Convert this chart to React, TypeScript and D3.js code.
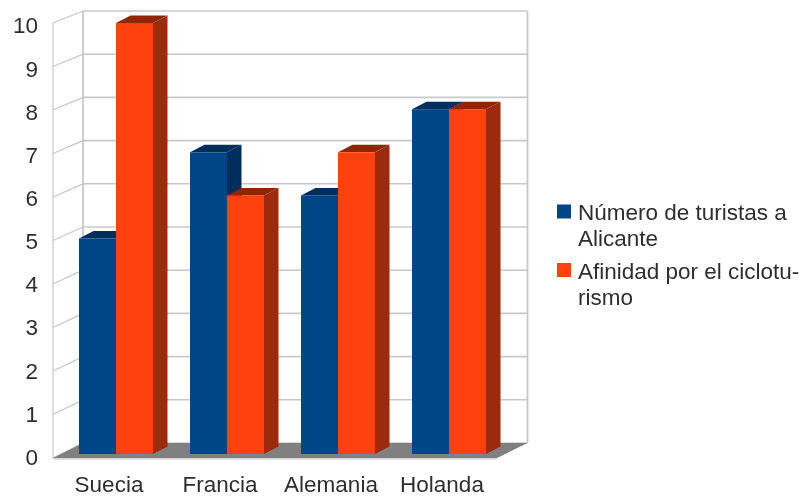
import React from "react";
import * as d3 from "d3";

const categories = ["Suecia", "Francia", "Alemania", "Holanda"];
const seriesNames = ["Número de turistas a Alicante", "Afinidad por el ciclotu-rismo"];
const turistas = [5, 7, 6, 8];
const afinidad = [10, 6, 7, 8];
const ticks = [0, 1, 2, 3, 4, 5, 6, 7, 8, 9, 10];
const legendLines = [["Número de turistas a", "Alicante"], ["Afinidad por el ciclotu-", "rismo"]];
const palette = [
  { front: "#004586", side: "#002f5c", top: "#002f5c" },
  { front: "#ff420e", side: "#9c2b08", top: "#8f2805" },
];

const W = 804, H = 497;
const font = "'Liberation Sans', Arial, sans-serif";
const textColor = "#2e2e2e";
const grid = "#c8c8c8";

export default function App() {
  const x = d3.scaleBand<string>().domain(categories).range([53, 497]);
  const yFront = d3.scaleLinear().domain([0, 10]).range([458, 23]);
  const yBack = d3.scaleLinear().domain([0, 10]).range([443, 11]);
  const yBar = d3.scaleLinear().domain([0, 10]).range([454, 23]);
  const yLabel = d3.scaleLinear().domain([0, 10]).range([459, 27.5]);
  const dx = 14.5, dy = 7.5, barW = 37, inset = 26;
  const series = [turistas, afinidad];
  const backL = 83, backR = 527.5, frontL = 53, frontR = 497;

  return (
    <svg width={W} height={H} viewBox={`0 0 ${W} ${H}`} style={{ position: "absolute", left: 0, top: 0, background: "#fff" }}>
      <defs>
        <filter id="soft" x="-2%" y="-2%" width="104%" height="104%">
          <feGaussianBlur stdDeviation="0.75" />
        </filter>
      </defs>
      <g filter="url(#soft)">
        {ticks.map((t) => (
          <g key={t}>
            <line x1={backL} x2={backR} y1={yBack(t)} y2={yBack(t)} stroke={grid} strokeWidth={1.6} />
            <line x1={frontL} x2={backL} y1={yFront(t)} y2={yBack(t)} stroke={grid} strokeWidth={1.3} />
          </g>
        ))}
        <line x1={backL} x2={backL} y1={yBack(10)} y2={yBack(0)} stroke={grid} strokeWidth={1.8} />
        <line x1={backR} x2={backR} y1={yBack(10)} y2={yBack(0)} stroke={grid} strokeWidth={1.8} />
        <line x1={frontL} x2={frontL} y1={yFront(10)} y2={yFront(0)} stroke={grid} strokeWidth={1.2} />
        <polygon
          points={`${frontL},${yFront(0)} ${frontR},${yFront(0)} ${backR},${yBack(0)} ${backL},${yBack(0)}`}
          fill="#808080"
        />
        <line x1={frontL} x2={frontR} y1={yFront(0) + 0.8} y2={yFront(0) + 0.8} stroke={grid} strokeWidth={1.3} />

        {categories.map((c, i) => (
          <g key={c}>
            {series.map((vals, s) => {
              const bx = (x(c) as number) + inset + s * barW;
              const top = yBar(vals[i]);
              const bottom = yBar(0);
              const p = palette[s];
              return (
                <g key={s}>
                  <polygon
                    points={`${bx + barW},${top} ${bx + barW + dx},${top - dy} ${bx + barW + dx},${bottom - dy} ${bx + barW},${bottom}`}
                    fill={p.side}
                  />
                  <polygon
                    points={`${bx},${top} ${bx + dx},${top - dy} ${bx + barW + dx},${top - dy} ${bx + barW},${top}`}
                    fill={p.top}
                  />
                  <rect x={bx} y={top} width={barW} height={bottom - top} fill={p.front} />
                </g>
              );
            })}
          </g>
        ))}

        {ticks.map((t) => (
          <text key={t} x={38} y={yLabel(t)} dominantBaseline="middle" textAnchor="end"
            fontFamily={font} fontSize={22.5} fill={textColor}>{t}</text>
        ))}
        {categories.map((c) => (
          <text key={c} x={(x(c) as number) + x.bandwidth() / 2 + 0.5} y={492} textAnchor="middle"
            fontFamily={font} fontSize={22.5} fill={textColor}>{c}</text>
        ))}

        {seriesNames.map((name, s) => {
          const top = 204.5 + s * 58.5;
          return (
            <g key={name}>
              <rect x={557} y={top} width={14} height={14} fill={palette[s].front} />
              {legendLines[s].map((ln, j) => (
                <text key={j} x={578} y={top + 15.5 + j * 26} fontFamily={font} fontSize={22.5} fill={textColor}>{ln}</text>
              ))}
            </g>
          );
        })}
      </g>
    </svg>
  );
}
